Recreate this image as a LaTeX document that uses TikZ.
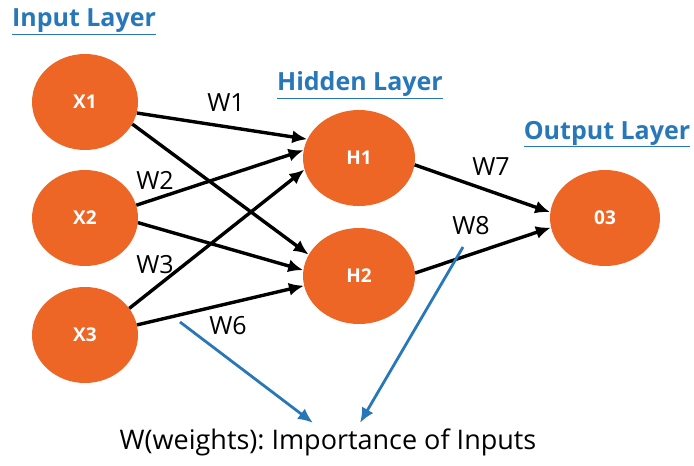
\documentclass[tikz,border=0pt]{standalone}
\usepackage{fontspec}
\setmainfont{Open Sans}
\usetikzlibrary{positioning,arrows.meta,shapes.geometric}
\definecolor{naranja}{RGB}{238,102,38}
\definecolor{azul}{RGB}{40,120,185}
\tikzset{neurona/.style={ellipse,fill=naranja,minimum width=106pt,minimum height=96pt,inner sep=0pt,text=white,font=\fontsize{19}{19}\selectfont\bfseries}}
\tikzset{capa/.style={text=azul,font=\fontsize{25}{25}\selectfont\bfseries}}
\tikzset{peso/.style={font=\fontsize{25}{25}\selectfont}}
\tikzset{enlace/.style={line width=3.4pt,-{Latex[length=15pt,width=13pt]}}}
\tikzset{nota/.style={line width=2.8pt,draw=azul,-{Latex[length=15pt,width=13pt]}}}
\frenchspacing

\begin{document}
\begin{tikzpicture}[x=1pt,y=-1pt]
            \useasboundingbox (0,0) rectangle (694,466);
            % neuronas
            \node[neurona] (x1) at (85,102) {X1};
            \node[neurona] (x2) at (85,218) {X2};
            \node[neurona] (x3) at (85,335) {X3};
            \node[neurona,minimum width=112pt] (h1) at (359,158) {H1};
            \node[neurona,minimum width=112pt] (h2) at (359,276) {H2};
            \node[neurona,minimum width=110pt] (o3) at (605,218) {03};

            % capas
            \node[capa] (ent) at (84,22) {\underline{Input Layer}};
            \node[capa] (ocu) at (360,85) {\underline{Hidden Layer}};
            \node[capa] (sal) at (607,134) {\underline{Output Layer}};

            % pesos
            \node[peso] (w1) at (226,103) {W1};
            \node[peso] (w2) at (155,180) {W2};
            \node[peso] (w3) at (155,265) {W3};
            \node[peso] (w6) at (228,326) {W6};
            \node[peso] (w7) at (491,167) {W7};
            \node[peso] (w8) at (471,226) {W8};
            \node[peso,font=\fontsize{27}{27}\selectfont] (imp) at (328,442) {W(weights): Importance of Inputs};

            \draw[enlace] (x1.348) to (h1.160);
            \draw[enlace] (x1.335) to (h2.157);
            \draw[enlace] (x2.14)  to (h1.172);
            \draw[enlace] (x2.355) to (h2.174);
            \draw[enlace] (x3.31)  to (h1.192);
            \draw[enlace] (x3.11)  to (h2.190);
            \draw[enlace] (h1.353) to (o3.174);
            \draw[enlace] (h2.3)   to (o3.190);

            \coordinate (p6) at (180,322);
            \coordinate (p8) at (463,247);
            \draw[nota] (p6) to ([xshift=-15pt,yshift=2pt]imp.north);
            \draw[nota] (p8) to ([xshift=32pt,yshift=2pt]imp.north);
        \end{tikzpicture}
\end{document}
